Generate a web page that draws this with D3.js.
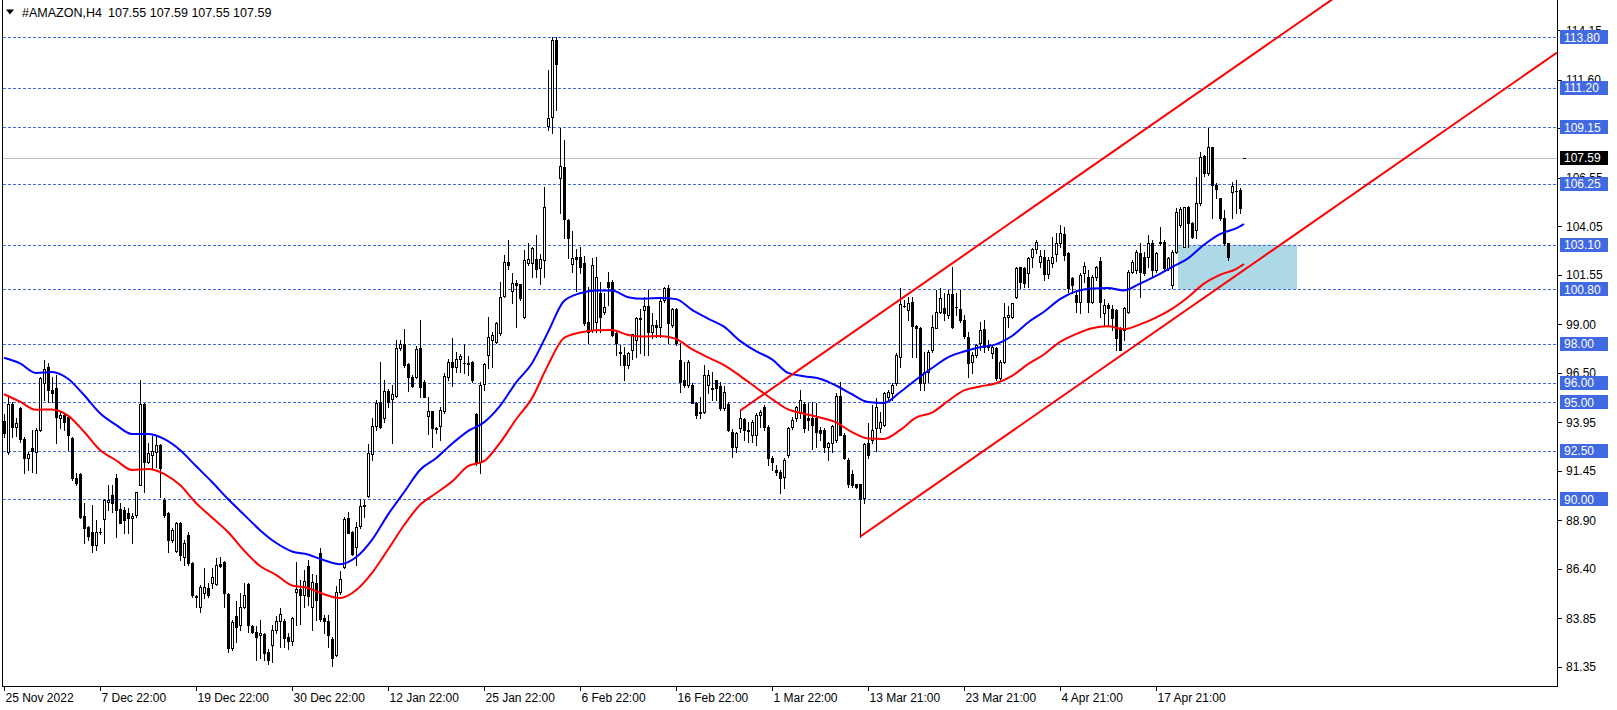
<!DOCTYPE html>
<html><head><meta charset="utf-8">
<script src="https://cdn.jsdelivr.net/npm/d3@7"></script>
<style>
html,body{margin:0;padding:0;background:#fff;}
svg{display:block;font-family:"Liberation Sans",Arial,sans-serif;}
</style></head><body>
<svg id="c" width="1617" height="710"></svg>
<script>
const symbolTitle = "#AMAZON,H4";
const titleQuote = "107.55 107.59 107.55 107.59";
const timeLabels = ["25 Nov 2022","7 Dec 22:00","19 Dec 22:00","30 Dec 22:00","12 Jan 22:00","25 Jan 22:00","6 Feb 22:00","16 Feb 22:00","1 Mar 22:00","13 Mar 21:00","23 Mar 21:00","4 Apr 21:00","17 Apr 21:00"];
const timeLabelBars = [0,24,48,72,96,120,144,168,192,216,240,264,288];
const priceTicks = [114.15,111.60,109.10,106.55,104.05,101.55,99.00,96.50,93.95,91.45,88.90,86.40,83.85,81.35];
const levelLines = [113.80,111.20,109.15,106.25,103.10,100.80,98.00,96.00,95.00,92.50,90.00];
const bidPrice = 107.59;
// [open, high, low, close] per H4 bar
const ohlc = [
[94.0,94.4,93.2,93.4],[92.41,95.36,92.3,94.9],[94.9,95.0,93.2,93.73],[93.73,94.16,93.25,93.9],[94.67,94.73,92.95,93.08],
[93.08,93.2,91.33,92.1],[92.1,92.44,91.5,92.32],[92.61,93.56,91.41,92.49],[92.44,93.65,91.36,93.56],[93.56,96.3,93.5,96.22],
[95.96,97.16,95.1,96.68],[96.82,97.03,95.02,95.62],[95.62,96.3,95.02,95.45],[95.7,96.39,92.87,94.21],[94.16,94.5,93.64,94.33],
[94.33,94.41,93.56,93.99],[94.21,94.33,92.53,93.3],[93.13,93.21,90.98,91.07],[91.07,91.33,90.72,90.84],[91.29,91.33,89.0,89.09],
[89.13,89.78,87.72,88.49],[88.54,88.6,87.9,88.1],[88.32,89.69,87.29,87.63],[87.63,88.92,87.38,88.32],[88.32,88.49,88.22,88.3],
[88.96,89.99,87.72,89.95],[89.87,90.72,89.44,89.95],[90.21,90.72,89.35,89.81],[91.07,91.29,88.06,89.44],[89.47,89.78,88.75,88.78],
[89.44,89.61,88.27,88.92],[89.3,89.52,88.27,89.0],[89.01,89.27,87.72,89.13],[89.18,90.38,89.09,90.35],[90.72,96.13,90.7,94.9],
[94.9,94.95,90.38,91.93],[91.93,92.87,91.84,92.36],[92.27,93.25,91.58,92.48],[92.44,93.25,91.67,92.79],[92.79,92.85,90.12,91.58],
[89.95,90.04,89.1,89.18],[89.27,89.35,87.29,87.89],[87.89,88.49,87.8,88.41],[87.34,88.8,87.29,88.75],[88.75,88.84,86.86,87.12],
[87.03,87.89,86.6,87.72],[88.15,88.32,86.6,86.69],[86.69,86.77,84.97,85.06],[85.0,85.06,84.45,84.97],[84.46,85.57,84.2,85.49],
[85.15,86.43,84.88,85.49],[85.4,85.66,84.97,85.06],[85.66,86.43,85.4,86.0],[85.62,86.95,85.57,86.6],[86.64,87.03,86.48,86.55],
[86.77,86.81,84.46,85.14],[85.09,85.14,82.14,82.31],[82.31,83.77,82.22,83.68],[83.98,84.77,82.65,83.39],[83.51,85.14,83.25,84.42],
[84.42,85.66,84.37,85.06],[85.62,85.66,83.17,83.51],[83.46,83.51,83.08,83.17],[83.17,83.46,81.71,82.88],[83.0,83.77,81.8,83.08],
[83.05,83.08,81.71,82.05],[82.14,82.3,81.5,81.71],[82.48,83.5,81.6,83.26],[83.25,83.98,83.1,83.74],[83.74,84.37,82.4,84.07],
[83.74,83.8,82.4,82.83],[82.87,83.08,82.3,82.7],[82.7,83.9,82.5,83.86],[85.23,86.78,83.5,85.35],[85.35,85.84,83.56,85.06],
[85.06,86.35,84.46,85.78],[86.55,86.86,84.55,85.0],[84.46,86.14,83.25,85.75],[85.7,86.1,83.77,84.8],[87.21,87.46,83.73,83.81],
[83.85,84.04,83.08,83.7],[83.73,84.04,82.4,83.0],[82.77,82.9,81.4,81.8],[81.97,85.5,81.9,85.23],[85.23,86.3,85.1,85.87],
[86.52,89.1,86.44,88.96],[89.0,89.32,88.24,88.27],[88.32,88.37,87.1,87.17],[87.52,88.84,86.6,88.58],[88.6,90.0,88.5,89.64],
[89.64,89.95,89.1,89.7],[90.18,92.84,90.12,92.39],[92.32,94.16,92.0,93.78],[93.77,95.1,93.56,94.93],[95.02,97.05,93.65,93.73],
[94.16,96.14,93.95,95.57],[95.57,95.66,94.76,95.02],[95.14,95.88,92.9,95.4],[95.31,98.2,95.28,97.8],[97.77,98.2,97.68,97.97],
[97.97,98.75,96.82,96.91],[96.96,97.0,95.59,96.27],[96.31,96.4,95.75,95.84],[96.31,97.9,96.22,97.72],[97.8,99.23,95.28,95.76],
[96.05,96.14,95.24,95.28],[94.28,95.28,93.35,94.54],[94.54,94.55,92.7,93.65],[93.6,93.73,93.39,93.65],[93.77,94.73,93.05,94.59],
[94.56,96.5,94.42,96.34],[96.31,97.2,96.14,97.05],[97.05,98.28,95.8,96.82],[96.82,97.6,96.54,97.2],[97.2,97.47,96.54,97.37],
[97.0,97.99,96.5,97.0],[96.95,97.37,96.39,97.03],[97.05,97.1,96.05,96.14],[94.37,94.42,91.75,91.84],[91.93,96.05,91.33,95.88],
[95.93,97.0,95.62,96.94],[97.42,99.36,96.74,98.37],[98.2,98.63,96.82,98.46],[98.11,99.14,98.03,99.05],[98.54,101.2,98.46,100.43],
[100.46,102.57,100.43,102.23],[102.23,103.35,101.83,102.06],[100.74,101.63,100.08,101.15],[101.12,101.3,98.88,101.03],[101.06,101.1,100.26,100.34],
[99.4,102.83,99.31,102.32],[102.14,103.2,102.06,102.35],[102.14,103.0,101.46,102.92],[102.35,103.6,101.46,101.83],[101.88,102.6,101.1,102.35],
[102.32,106.09,101.46,105.03],[109.22,112.1,109.0,109.62],[109.67,113.82,108.84,113.65],[113.65,113.82,110.04,112.4],[106.52,109.1,104.72,107.16],
[107.12,108.5,103.43,104.41],[104.38,104.45,102.4,103.43],[102.11,103.83,101.7,102.4],[102.45,102.9,100.7,102.35],[102.49,103.0,101.65,101.97],
[102.14,102.5,98.97,99.05],[99.14,100.94,98.02,98.62],[98.71,102.4,98.6,102.06],[99.14,102.49,98.62,101.42],[100.6,101.2,98.62,99.4],
[99.66,100.6,99.55,99.9],[101.2,101.7,100.0,100.95],[101.2,101.3,98.4,98.46],[98.54,98.6,97.43,98.03],[97.6,97.95,96.9,97.5],
[97.43,97.85,96.14,96.91],[96.91,97.6,96.74,97.51],[97.7,98.46,97.2,98.5],[98.2,99.4,97.34,99.31],[99.3,99.8,97.5,99.33],
[99.74,100.43,97.43,99.95],[99.95,100.77,97.43,98.63],[98.63,99.6,98.29,98.97],[98.98,99.2,98.37,98.89],[98.89,100.34,98.37,100.22],
[100.26,100.94,100.17,100.86],[100.86,101.03,98.03,99.06],[98.97,99.83,98.89,99.78],[99.78,99.83,97.94,98.03],[97.17,98.06,95.54,96.05],
[96.14,97.08,95.79,95.88],[95.88,97.17,95.79,97.08],[95.88,95.97,94.94,94.94],[94.94,95.0,94.16,94.33],[94.5,95.28,94.16,94.42],
[94.5,96.91,94.42,96.39],[95.88,96.65,95.45,96.39],[95.74,96.56,95.11,95.66],[96.14,96.14,95.11,95.71],[95.83,96.05,94.59,94.68],
[94.7,95.8,94.6,95.5],[94.9,95.0,93.5,93.56],[93.48,93.6,92.19,92.7],[92.7,93.45,92.45,93.39],[93.65,94.59,93.48,94.16],
[94.11,94.16,93.05,93.56],[93.56,93.99,92.96,93.5],[93.3,94.08,92.96,93.99],[93.3,94.42,92.79,94.33],[94.33,94.59,93.73,94.5],
[94.76,94.85,93.56,93.73],[93.73,93.8,91.76,92.1],[92.1,92.2,91.5,91.93],[91.5,91.76,91.24,91.42],[91.42,91.5,90.3,91.07],
[91.16,92.1,90.56,92.0],[92.27,93.7,92.19,93.65],[93.73,94.25,93.6,94.08],[94.16,94.8,94.0,94.76],[94.42,95.6,94.2,95.1],
[94.9,95.0,93.47,93.64],[94.2,94.93,93.56,94.06],[94.16,95.0,92.6,93.8],[94.16,94.93,92.7,93.47],[93.56,93.73,93.04,93.38],
[93.56,93.64,92.44,92.7],[92.7,92.95,92.0,92.87],[92.87,93.82,92.44,93.76],[93.04,95.45,92.96,95.3],[95.3,96.05,93.3,93.3],
[93.3,93.38,92.05,92.1],[92.0,92.1,90.64,90.8],[91.29,91.5,90.64,90.72],[90.8,90.8,90.55,90.64],[90.8,90.8,88.06,90.0],
[90.03,92.87,89.78,92.83],[92.9,93.9,92.1,92.27],[93.04,94.85,92.87,93.56],[93.64,95.2,92.5,94.76],[93.64,94.5,93.47,93.99],
[93.82,95.5,93.75,95.48],[95.28,95.6,95.1,95.53],[95.45,96.0,95.1,95.88],[95.96,97.5,95.9,97.42],[97.34,100.86,96.8,100.05],
[99.95,100.26,99.91,99.95],[99.75,100.43,99.23,100.08],[100.17,100.43,97.34,98.9],[98.9,98.95,97.34,98.8],[98.8,98.88,95.62,95.96],
[95.96,97.6,95.62,96.56],[96.56,97.7,96.05,97.6],[97.68,99.48,97.6,98.88],[98.83,100.77,98.8,99.66],[99.66,100.86,99.57,100.34],
[99.83,100.6,99.23,99.6],[99.48,100.77,99.31,100.57],[100.57,101.97,98.8,98.88],[99.9,100.6,99.48,99.88],[99.78,100.77,99.14,99.23],
[99.23,99.5,98.3,98.4],[98.37,98.6,96.3,96.99],[97.08,97.6,96.48,97.42],[97.42,98.0,97.34,97.94],[98.03,99.14,97.68,98.71],
[98.75,99.23,97.6,97.85],[97.9,98.2,97.68,97.85],[97.5,97.94,97.25,97.85],[97.76,97.85,96.14,96.22],[96.22,97.17,96.14,97.08],
[97.08,100.08,97.0,99.4],[99.4,99.95,98.88,99.5],[99.4,100.12,99.31,100.08],[100.43,101.97,100.34,101.89],[101.97,101.97,100.86,101.2],
[101.89,101.97,100.91,101.15],[101.63,102.49,100.94,102.4],[102.46,102.92,101.97,102.87],[102.87,103.35,102.66,103.26],[102.2,102.83,101.97,102.5],
[102.49,102.83,101.29,101.6],[101.6,102.49,101.37,102.32],[102.15,103.52,101.97,102.49],[102.63,103.69,102.28,103.18],[103.18,104.12,103.0,103.69],
[103.66,104.03,102.32,102.57],[102.7,102.75,100.69,100.86],[101.37,101.46,100.6,101.03],[100.52,100.77,99.66,100.17],[100.17,101.63,99.57,101.54],
[101.63,102.23,101.2,102.0],[101.46,101.8,99.65,100.17],[100.17,101.55,100.08,101.46],[101.46,102.0,101.3,101.97],[102.26,102.49,99.4,100.17],
[99.57,100.3,98.9,100.0],[100.0,100.08,98.9,99.83],[99.77,100.0,98.71,99.31],[99.74,99.8,97.68,98.28],[98.8,98.85,97.68,97.68],
[98.71,99.91,98.2,99.83],[99.65,101.8,99.57,101.72],[101.72,102.32,101.63,102.23],[101.8,102.83,101.63,102.75],[102.66,103.17,100.43,101.72],
[102.49,102.75,101.55,101.63],[102.49,103.6,101.97,103.17],[103.17,103.35,101.46,101.8],[101.8,102.75,101.72,102.66],[103.26,104.03,103.1,103.17],
[103.26,103.35,101.8,101.89],[101.89,102.49,101.8,102.4],[101.03,102.83,100.86,102.75],[102.75,104.98,102.66,104.81],[104.12,105.03,104.03,104.93],
[103.0,105.07,103.0,105.03],[105.03,105.1,102.99,104.24],[104.2,104.29,103.43,103.52],[103.86,106.61,103.43,105.24],[105.24,107.9,105.15,107.6],
[107.67,107.73,106.65,106.82],[106.78,109.1,106.7,108.12],[108.12,108.15,104.46,106.18],[106.18,106.27,105.5,105.96],[105.5,105.5,104.38,104.46],
[104.46,104.9,103.1,103.17],[103.17,103.17,102.32,102.49],[105.84,106.35,104.46,106.13],[105.89,106.44,104.72,105.89],[105.93,106.01,104.72,104.98],
[107.55,107.59,107.55,107.59]
];
const maBars = [0,4,8,12,16,20,24,28,32,36,40,44,48,52,56,60,64,68,72,76,80,84,88,92,96,100,104,108,112,116,120,124,128,132,136,140,144,148,152,156,160,164,168,172,176,180,184,188,192,196,200,204,208,212,216,220,224,228,232,236,240,244,248,252,256,260,264,268,272,276,280,284,288,292,296,300,304,308,310];
const maBlue = [97.28,96.99,96.5,96.55,96.2,95.36,94.42,93.82,93.35,93.35,93.1,92.53,91.7,90.88,90.0,89.2,88.4,87.75,87.3,87.14,86.85,86.64,87.0,87.9,89.2,90.35,91.5,92.1,92.85,93.5,93.95,94.8,96.0,97.0,98.6,100.2,100.6,100.74,100.74,100.4,100.32,100.36,100.3,99.75,99.3,98.88,98.15,97.62,97.2,96.5,96.33,96.2,95.85,95.4,95.0,94.95,95.5,96.15,96.75,97.3,97.6,97.82,97.97,98.4,99.1,99.65,100.3,100.7,100.85,100.87,100.75,101.1,101.5,101.95,102.4,103.1,103.65,103.95,104.17];
const maRed = [95.4,95.02,94.6,94.62,94.3,93.47,92.53,92.0,91.5,91.55,91.3,90.72,89.8,89.05,88.3,87.35,86.55,86.1,85.55,85.42,85.1,84.9,85.3,86.2,87.4,88.65,89.7,90.3,90.9,91.7,91.95,92.9,94.1,95.2,96.9,98.3,98.58,98.7,98.71,98.45,98.37,98.4,98.25,97.72,97.3,96.9,96.35,95.75,95.15,94.62,94.4,94.2,93.95,93.45,93.12,93.1,93.55,94.2,94.45,95.05,95.6,95.8,95.97,96.35,96.95,97.45,98.1,98.5,98.8,98.9,98.75,99.0,99.35,99.8,100.4,101.1,101.55,101.85,102.11];
// equidistant channel: base line anchors and offset point
const channelBars = [214, 310];
const channelPrices = [88.06, 101.8];
const channelOffsetBar = 184;
const channelOffsetPrice = 94.55;
// support zone rectangle
const zoneBars = [293.5, 323.25];
const zonePrices = [103.10, 100.80];

const svg = d3.select("#c");
const plotL = 3, plotR = 1557, plotB = 686;
const x = d3.scaleLinear().domain([-1, 388.25]).range([0, plotR]);
const y = d3.scaleLinear().domain([80.37, 115.71]).range([plotB, 0]);
const py = v => Math.round(y(v)) + 0.5;

svg.append("rect").attr("width",1617).attr("height",710).attr("fill","#fff");
svg.append("defs").append("clipPath").attr("id","clip").append("rect")
  .attr("x",plotL).attr("y",0).attr("width",plotR-plotL).attr("height",plotB);
const plot = svg.append("g").attr("clip-path","url(#clip)");

// zone
plot.append("rect")
  .attr("x", x(zoneBars[0])).attr("width", x(zoneBars[1]) - x(zoneBars[0]))
  .attr("y", y(zonePrices[0])).attr("height", y(zonePrices[1]) - y(zonePrices[0]))
  .attr("fill", "#ADD8E6");

// level lines
plot.selectAll("line.lvl").data(levelLines).join("line").attr("class","lvl")
  .attr("x1",plotL).attr("x2",plotR).attr("y1",py).attr("y2",py)
  .attr("stroke","#4169E1").attr("stroke-width",1).attr("stroke-dasharray","3,2");

// bid line
plot.append("line").attr("x1",plotL).attr("x2",plotR).attr("y1",py(bidPrice)).attr("y2",py(bidPrice))
  .attr("stroke","#C0C0C0").attr("stroke-width",1);

// candles
const cg = plot.append("g");
const cs = cg.selectAll("g.c").data(ohlc).join("g").attr("class","c");
cs.each(function(d,i){
  const [o,h,l,c] = d;
  const g = d3.select(this);
  const cx = Math.round(x(i));
  const hi = Math.max(h,o,c), lo = Math.min(l,o,c);
  g.append("line").attr("x1",cx+0.5).attr("x2",cx+0.5)
    .attr("y1",Math.round(y(hi))).attr("y2",Math.round(y(lo))+1)
    .attr("stroke","#000").attr("stroke-width",1);
  const yt = Math.round(y(Math.max(o,c))), yb = Math.round(y(Math.min(o,c)));
  if (yb - yt < 1) {
    g.append("line").attr("x1",cx-1).attr("x2",cx+2).attr("y1",yt+0.5).attr("y2",yt+0.5)
      .attr("stroke","#000").attr("stroke-width",1);
  } else if (c > o) {
    g.append("rect").attr("x",cx-0.5).attr("y",yt+0.5).attr("width",2).attr("height",yb-yt)
      .attr("fill","#fff").attr("stroke","#000").attr("stroke-width",1);
  } else {
    g.append("rect").attr("x",cx-1).attr("y",yt).attr("width",3).attr("height",yb-yt+1)
      .attr("fill","#000");
  }
});

// moving averages
const maLine = vals => d3.line().x((d,k)=>x(maBars[k])).y(d=>y(d)).curve(d3.curveMonotoneX)(vals);
plot.append("path").attr("d",maLine(maBlue)).attr("fill","none").attr("stroke","#0000FF").attr("stroke-width",2);
plot.append("path").attr("d",maLine(maRed)).attr("fill","none").attr("stroke","#FF0000").attr("stroke-width",2);

// channel
const slope = (channelPrices[1]-channelPrices[0])/(channelBars[1]-channelBars[0]);
const endBar = x.domain()[1];
const lowerEnd = channelPrices[0] + slope*(endBar-channelBars[0]);
const upperEnd = channelOffsetPrice + slope*(endBar-channelOffsetBar);
plot.append("line").attr("x1",x(channelBars[0])).attr("y1",y(channelPrices[0]))
  .attr("x2",x(endBar)).attr("y2",y(lowerEnd)).attr("stroke","#FF0000").attr("stroke-width",2);
plot.append("line").attr("x1",x(channelOffsetBar)).attr("y1",y(channelOffsetPrice))
  .attr("x2",x(endBar)).attr("y2",y(upperEnd)).attr("stroke","#FF0000").attr("stroke-width",2);

// frame
svg.append("line").attr("x1",2.5).attr("x2",2.5).attr("y1",0).attr("y2",plotB+1).attr("stroke","#000");
svg.append("line").attr("x1",plotR+0.5).attr("x2",plotR+0.5).attr("y1",0).attr("y2",plotB+1).attr("stroke","#000");
svg.append("line").attr("x1",2).attr("x2",plotR+1).attr("y1",plotB+0.5).attr("y2",plotB+0.5).attr("stroke","#000");

// price axis
const ax = svg.append("g").attr("font-size","12px").attr("fill","#000");
priceTicks.forEach(t=>{
  ax.append("line").attr("x1",plotR+1).attr("x2",plotR+5).attr("y1",py(t)).attr("y2",py(t)).attr("stroke","#000");
  ax.append("text").attr("x",plotR+9).attr("y",y(t)+4.5).text(t.toFixed(2));
});
levelLines.forEach(l=>{
  ax.append("rect").attr("x",plotR+3).attr("y",Math.round(y(l))-7).attr("width",48).attr("height",14).attr("fill","#4169E1");
  ax.append("text").attr("x",plotR+7).attr("y",y(l)+4.5).attr("fill","#fff").text(l.toFixed(2));
});
ax.append("rect").attr("x",plotR+3).attr("y",Math.round(y(bidPrice))-7).attr("width",48).attr("height",14).attr("fill","#000");
ax.append("text").attr("x",plotR+7).attr("y",y(bidPrice)+4.5).attr("fill","#fff").text(bidPrice.toFixed(2));

// time axis
const tx = svg.append("g").attr("font-size","12px").attr("fill","#000");
timeLabelBars.forEach((b,k)=>{
  const xx = Math.round(x(b))+0.5;
  tx.append("line").attr("x1",xx).attr("x2",xx).attr("y1",plotB+1).attr("y2",plotB+5).attr("stroke","#000");
  tx.append("text").attr("x",xx+1).attr("y",702).text(timeLabels[k]);
});

// title
svg.append("path").attr("d","M6,9.5 L14,9.5 L10,14.5 Z").attr("fill","#000");
svg.append("text").attr("x",22).attr("y",17).attr("font-size","12.5px").text(symbolTitle);
svg.append("text").attr("x",108).attr("y",17).attr("font-size","12.5px").text(titleQuote);
</script>
</body></html>
